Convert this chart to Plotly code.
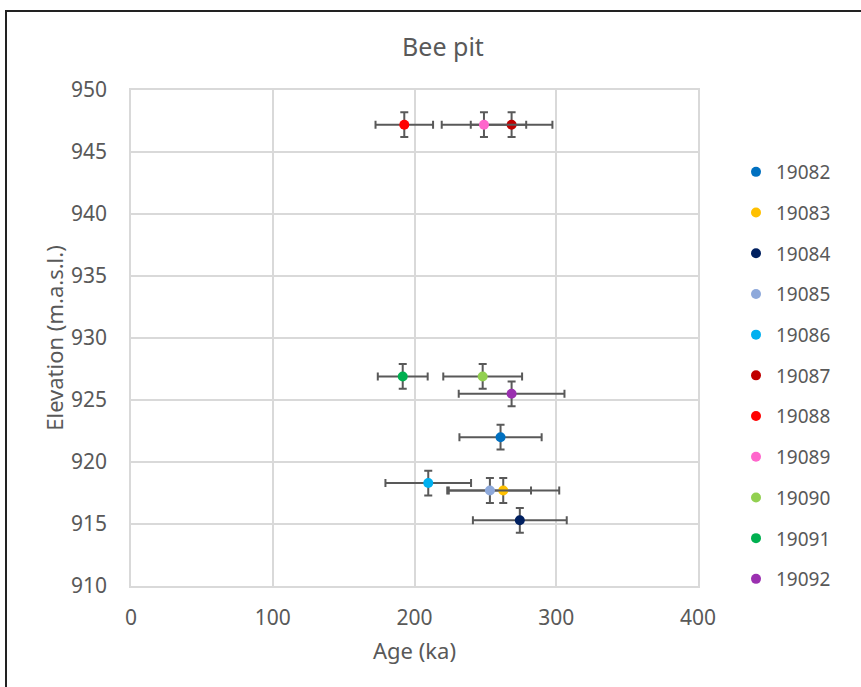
import plotly.graph_objects as go

samples = ["19082", "19083", "19084", "19085", "19086", "19087",
           "19088", "19089", "19090", "19091", "19092"]
age_ka = [260.7, 262.6, 274.3, 253.2, 209.7, 268.5, 192.8, 249.0, 248.1, 191.7, 268.5]
age_err = [29.0, 39.5, 33.1, 29.0, 30.2, 28.8, 20.3, 29.8, 27.8, 17.6, 37.3]
elevation = [922.0, 917.7, 915.3, 917.7, 918.3, 947.2, 947.2, 947.2, 926.9, 926.9, 925.5]
elev_err = [1, 1, 1, 1, 1, 1, 1, 1, 1, 1, 1]
colors = ["#0070C0", "#FFC000", "#002060", "#8EA9DB", "#00B0F0", "#C00000",
          "#FF0000", "#FF66CC", "#92D050", "#00B050", "#9B30B0"]

x_ticks = [0, 100, 200, 300, 400]
y_ticks = [910, 915, 920, 925, 930, 935, 940, 945, 950]

FONT = "Noto Sans"
TXT = "#595959"
GRID = "#D9D9D9"
ERR = "#595959"

fig = go.Figure()
for i, name in enumerate(samples):
    fig.add_trace(go.Scatter(
        x=[age_ka[i]], y=[elevation[i]], mode="markers", name=name,
        legendgroup=name,
        marker=dict(color=colors[i], size=10),
        error_x=dict(type="data", array=[age_err[i]], color=ERR, thickness=2, width=4),
        error_y=dict(type="data", array=[elev_err[i]], color=ERR, thickness=2, width=4),
    ))

W, H = 861, 687
ml, mr, mt, mb = 131, 163, 90, 101
pw, ph = W - ml - mr, H - mt - mb

fig.update_layout(
    width=W, height=H,
    margin=dict(l=ml, r=mr, t=mt, b=mb, pad=0),
    paper_bgcolor="white", plot_bgcolor="white",
    font=dict(family=FONT, color=TXT),
    title=dict(text="Bee pit", x=(443 - ml) / pw, xref="paper", xanchor="center",
               y=1 - 47 / H, yanchor="middle", font=dict(size=25, color=TXT, family=FONT)),
    showlegend=True,
    legend=dict(x=(736 - ml) / pw, xanchor="left", y=(90 - 153) / ph + 1, yanchor="top",
                font=dict(size=19, color=TXT, family=FONT),
                tracegroupgap=13, itemwidth=30, bgcolor="rgba(0,0,0,0)"),
    xaxis=dict(range=[0, 400], tickvals=x_ticks, showgrid=True, gridcolor=GRID, gridwidth=1.5,
               showline=True, linecolor=GRID, linewidth=1.5, mirror=True, zeroline=False,
               ticks="", ticklabelstandoff=12, tickfont=dict(size=21, color=TXT, family=FONT),
               title=dict(text="Age (ka)", font=dict(size=22, color=TXT, family=FONT), standoff=14)),
    yaxis=dict(range=[910, 950], tickvals=y_ticks, showgrid=True, gridcolor=GRID, gridwidth=1.5,
               showline=True, linecolor=GRID, linewidth=1.5, mirror=True, zeroline=False,
               ticks="", ticklabelstandoff=18, tickfont=dict(size=21, color=TXT, family=FONT),
               title=dict(text="Elevation (m.a.s.l.)", font=dict(size=22, color=TXT, family=FONT), standoff=1)),
)

# outer chart frame
fig.add_shape(type="rect", xref="paper", yref="paper",
              x0=(6 - ml) / pw, x1=(W + 20 - ml) / pw,
              y0=-(mb + 20) / ph, y1=1 + (mt - 11) / ph,
              line=dict(color="#222222", width=2), fillcolor="rgba(0,0,0,0)", layer="below")

fig.write_html("out.html")
